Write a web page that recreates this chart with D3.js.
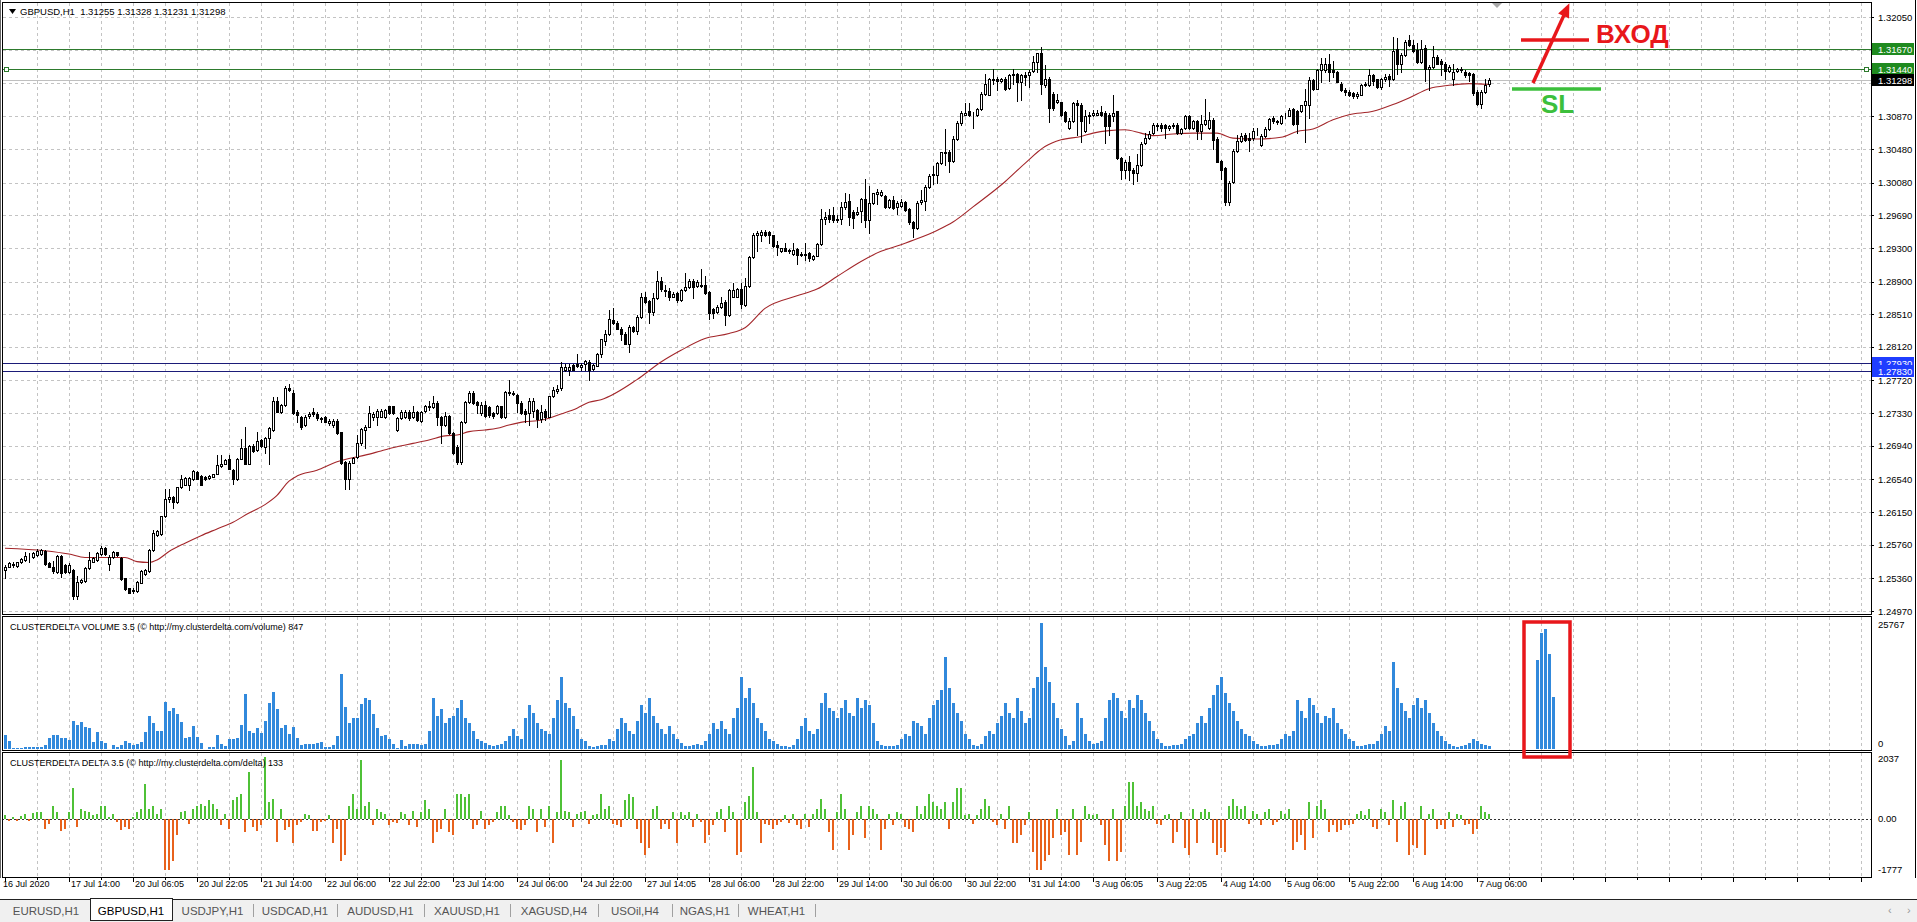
<!DOCTYPE html>
<html><head><meta charset="utf-8">
<script src="https://cdn.jsdelivr.net/npm/d3@7"></script>
<style>
html,body{margin:0;padding:0;background:#fff;overflow:hidden}
svg{display:block}
text{font-family:"Liberation Sans",Arial,sans-serif}
</style></head><body>
<svg id="c" width="1917" height="922"></svg>
<script>
// ---------------- DATA ----------------
const symbolTitle = "GBPUSD,H1";
const headerQuote = ["1.31255", "1.31328", "1.31231", "1.31298"];

// hourly candles, prices in 1/10000 (pips)
const openP = [
12546,12550,12553,12551,12555,12558,12562,12561,12564,12565,
12569,12554,12550,12544,12563,12552,12544,12546,12515,12532,
12533,12548,12556,12558,12565,12572,12553,12561,12567,12560,
12536,12524,12522,12521,12531,12541,12545,12570,12588,12589,
12610,12631,12633,12627,12645,12647,12647,12654,12663,12658,
12657,12656,12657,12660,12670,12673,12678,12665,12654,12678,
12691,12672,12694,12689,12701,12693,12704,12713,12747,12734,
12743,12763,12757,12734,12728,12719,12730,12734,12732,12727,
12728,12721,12719,12724,12710,12675,12655,12674,12681,12697,
12713,12717,12728,12728,12729,12728,12741,12741,12713,12727,
12728,12735,12728,12735,12724,12736,12740,12740,12745,12728,
12719,12730,12709,12693,12675,12722,12746,12757,12746,12733,
12743,12740,12733,12733,12742,12728,12758,12757,12755,12745,
12736,12733,12736,12737,12726,12736,12729,12753,12759,12763,
12785,12785,12790,12792,12788,12792,12794,12786,12789,12804,
12819,12828,12844,12841,12834,12828,12816,12836,12831,12848,
12871,12867,12854,12870,12891,12880,12879,12872,12876,12868,
12880,12883,12891,12885,12886,12886,12878,12857,12854,12860,
12866,12850,12872,12872,12881,12862,12885,12919,12946,12946,
12949,12949,12946,12934,12926,12930,12928,12923,12929,12923,
12922,12924,12917,12921,12935,12965,12969,12969,12963,12965,
12979,12986,12973,12971,12974,12989,12963,12984,12994,12993,
12992,12979,12987,12979,12980,12985,12977,12961,12954,12985,
12986,13003,13017,13017,13031,13045,13044,13034,13060,13079,
13089,13093,13089,13089,13096,13114,13112,13132,13132,13129,
13132,13121,13137,13137,13128,13136,13136,13141,13152,13162,
13124,13132,13114,13104,13104,13092,13073,13081,13103,13101,
13069,13088,13089,13089,13092,13091,13089,13088,13093,13037,
13023,13032,13023,13019,13029,13055,13061,13067,13077,13077,
13077,13073,13076,13077,13067,13073,13087,13073,13081,13070,
13078,13073,13083,13060,13034,13025,12985,13009,13046,13058,
13065,13061,13061,13069,13053,13063,13072,13085,13082,13079,
13087,13088,13096,13093,13093,13101,13101,13130,13120,13142,
13142,13150,13142,13140,13126,13119,13116,13115,13111,13113,
13124,13124,13136,13131,13122,13131,13135,13131,13167,13149,
13160,13178,13172,13166,13152,13168,13144,13146,13158,13153,
13150,13141,13132,13141,13142,13140,13139,13138,13116,13102,
13116,13125.5];
const highP = [
12552,12556,12555,12556,12560,12567,12566,12568,12571,12571,
12570,12556,12557,12564,12564,12553,12554,12547,12539,12535,
12549,12567,12562,12567,12575,12574,12564,12569,12568,12561,
12537,12525,12524,12533,12546,12547,12571,12594,12594,12610,
12643,12643,12634,12645,12659,12657,12657,12665,12664,12659,
12658,12659,12661,12683,12683,12678,12683,12666,12679,12702,
12716,12695,12696,12711,12702,12705,12716,12752,12752,12744,
12765,12768,12761,12737,12730,12731,12735,12739,12734,12728,
12730,12726,12726,12726,12711,12676,12676,12681,12707,12715,
12719,12741,12735,12738,12738,12738,12742,12742,12729,12737,
12737,12737,12741,12736,12736,12743,12747,12754,12747,12730,
12735,12731,12710,12695,12724,12747,12759,12759,12747,12746,
12747,12741,12735,12743,12742,12759,12773,12759,12756,12747,
12738,12751,12751,12738,12743,12738,12754,12764,12767,12794,
12792,12792,12792,12804,12793,12796,12796,12792,12805,12822,
12832,12856,12858,12843,12836,12830,12838,12837,12850,12876,
12878,12868,12876,12903,12895,12886,12882,12877,12878,12881,
12900,12893,12893,12892,12905,12897,12879,12859,12862,12872,
12868,12881,12888,12882,12888,12894,12921,12948,12950,12951,
12952,12950,12946,12938,12930,12936,12929,12936,12930,12925,
12936,12925,12922,12936,12977,12973,12977,12979,12969,12985,
12995,12994,12975,12979,12990,13012,13004,12996,13000,12999,
12993,12989,12992,12986,12989,12986,12978,12962,12986,12999,
13005,13018,13028,13033,13045,13072,13047,13063,13081,13093,
13103,13103,13092,13097,13116,13137,13133,13144,13134,13133,
13134,13138,13144,13139,13137,13140,13142,13159,13163,13170,
13148,13134,13116,13114,13104,13093,13085,13104,13106,13103,
13095,13092,13095,13095,13099,13093,13091,13112,13093,13038,
13035,13040,13026,13042,13056,13067,13070,13079,13079,13079,
13078,13077,13079,13079,13073,13089,13089,13083,13083,13089,
13108,13092,13085,13062,13035,13027,13010,13048,13065,13067,
13067,13067,13073,13073,13066,13074,13085,13088,13083,13089,
13091,13097,13097,13095,13101,13120,13134,13132,13143,13156,
13157,13161,13153,13141,13128,13121,13118,13116,13116,13125,
13128,13144,13138,13132,13133,13137,13137,13182,13180,13162,
13178,13184,13178,13174,13178,13172,13148,13171,13160,13155,
13152,13148,13149,13145,13146,13142,13140,13139,13118,13118,
13132,13132.8];
const lowP = [
12536,12549,12550,12550,12554,12557,12555,12560,12563,12564,
12552,12549,12542,12542,12538,12543,12543,12511,12511,12530,
12532,12547,12555,12557,12564,12564,12546,12560,12563,12534,
12522,12519,12519,12520,12530,12540,12544,12569,12587,12588,
12609,12627,12620,12626,12644,12647,12641,12653,12655,12647,
12653,12655,12657,12660,12669,12672,12666,12649,12653,12678,
12672,12672,12687,12688,12693,12686,12672,12712,12734,12733,
12742,12760,12732,12723,12714,12718,12727,12730,12725,12723,
12722,12719,12717,12708,12673,12643,12643,12674,12680,12695,
12691,12716,12725,12719,12728,12727,12732,12732,12712,12726,
12727,12725,12727,12724,12723,12735,12737,12739,12719,12697,
12718,12708,12684,12672,12673,12721,12745,12744,12733,12731,
12728,12728,12727,12732,12727,12727,12755,12755,12735,12732,
12723,12719,12729,12717,12723,12725,12728,12752,12757,12761,
12783,12779,12784,12788,12785,12784,12773,12785,12789,12800,
12814,12826,12839,12833,12820,12815,12806,12830,12828,12847,
12865,12841,12850,12869,12879,12873,12868,12871,12866,12867,
12879,12882,12870,12884,12883,12875,12845,12847,12852,12859,
12838,12849,12871,12871,12859,12861,12884,12918,12926,12938,
12944,12936,12931,12922,12925,12926,12924,12922,12911,12920,
12916,12915,12916,12920,12934,12959,12961,12961,12961,12959,
12977,12958,12954,12969,12961,12955,12948,12983,12982,12992,
12978,12978,12976,12971,12979,12974,12959,12943,12953,12983,
12975,13002,13006,13007,13030,13029,13021,13032,13059,13077,
13089,13087,13073,13088,13095,13113,13112,13125,13118,13128,
13118,13120,13126,13105,13106,13124,13122,13140,13140,13114,
13122,13080,13095,13103,13088,13080,13072,13080,13065,13056,
13068,13079,13087,13089,13088,13055,13065,13081,13036,13012,
13013,13011,13006,13010,13028,13054,13060,13066,13071,13069,
13061,13071,13073,13066,13066,13072,13072,13072,13060,13060,
13077,13072,13048,13032,13012,12981,12981,13008,13045,13057,
13058,13046,13059,13065,13052,13062,13071,13079,13078,13078,
13085,13087,13077,13067,13092,13057,13085,13118,13120,13128,
13140,13129,13134,13128,13117,13113,13111,13109,13109,13112,
13123,13123,13124,13121,13120,13129,13123,13130,13138,13140,
13159,13171,13164,13151,13151,13129,13118,13145,13149,13136,
13132,13140,13124,13140,13140,13134,13129,13112,13101,13097,
13115,13123.1];
const closeP = [
12550,12554,12552,12555,12559,12563,12561,12566,12569,12570,
12553,12550,12545,12563,12543,12544,12552,12515,12532,12534,
12548,12558,12560,12566,12572,12565,12562,12567,12564,12535,
12523,12519,12521,12532,12545,12546,12570,12590,12592,12610,
12631,12633,12627,12645,12655,12656,12656,12664,12655,12647,
12654,12658,12660,12671,12673,12677,12666,12654,12678,12692,
12673,12694,12688,12700,12694,12704,12715,12747,12735,12743,
12763,12761,12733,12731,12717,12729,12732,12732,12727,12726,
12723,12724,12724,12709,12674,12655,12674,12680,12697,12714,
12717,12733,12732,12736,12736,12737,12733,12733,12727,12734,
12735,12727,12735,12725,12734,12742,12742,12745,12728,12719,
12730,12709,12685,12675,12722,12746,12757,12745,12743,12743,
12730,12731,12730,12741,12729,12758,12757,12756,12745,12733,
12732,12748,12748,12726,12735,12728,12753,12761,12762,12788,
12788,12788,12785,12789,12790,12795,12785,12790,12804,12821,
12828,12845,12841,12834,12828,12816,12836,12831,12848,12871,
12866,12854,12870,12891,12881,12879,12872,12875,12868,12880,
12883,12891,12883,12890,12885,12876,12853,12853,12860,12865,
12850,12880,12880,12881,12863,12885,12919,12945,12948,12949,
12946,12945,12932,12931,12930,12927,12926,12928,12922,12922,
12923,12918,12921,12935,12964,12967,12965,12963,12965,12979,
12985,12967,12966,12973,12988,12963,12984,12995,12997,12997,
12979,12987,12978,12984,12985,12975,12961,12954,12984,12987,
13003,13016,13018,13031,13044,13043,13034,13060,13079,13091,
13091,13089,13089,13096,13114,13126,13131,13130,13129,13132,
13120,13136,13136,13128,13136,13134,13140,13152,13162,13125,
13132,13097,13097,13107,13089,13081,13082,13103,13101,13081,
13088,13089,13091,13091,13089,13075,13075,13091,13037,13023,
13033,13023,13019,13029,13054,13061,13066,13077,13076,13073,
13073,13076,13077,13067,13072,13087,13073,13081,13069,13078,
13083,13083,13059,13033,13023,12985,13008,13046,13058,13064,
13059,13059,13069,13070,13064,13072,13084,13081,13080,13087,
13088,13095,13078,13078,13100,13105,13130,13120,13142,13149,
13149,13140,13140,13128,13118,13116,13112,13111,13114,13124,
13126,13136,13129,13122,13132,13134,13131,13165,13149,13160,
13176,13172,13165,13152,13167,13144,13146,13158,13150,13149,
13141,13146,13140,13144,13144,13136,13136,13115,13102,13116,
13124,13129.8];

// moving average: bar index / value (pips)
const maBars = [0,10,16,20,25,30,33,36,38,41,45,49,53,57,61,65,68,71,73,78,83,86,90,94,98,102,106,110,113,116,120,123,126,130,133,136,139,143,146,149,158,164,169,175,181,185,190,198,203,208,214,219,224,228,233,237,242,250,255,260,264,269,272,276,280,284,287,292,297,303,307,313,319,323,327,332,336,342,347,351,356,361,366,371];
const maValues = [12572,12569,12565,12561,12561,12561,12556,12555,12558,12568,12578,12587,12595,12603,12614,12624,12635,12652,12658,12665,12675,12679,12683,12688,12693,12697,12701,12706,12707,12711,12713,12715,12719,12723,12724,12727,12732,12739,12746,12749,12773,12794,12808,12822,12828,12835,12858,12873,12881,12896,12914,12926,12934,12941,12951,12961,12979,13009,13031,13051,13059,13063,13067,13070,13071,13067,13064,13066,13067,13067,13061,13060,13062,13069,13072,13083,13089,13093,13101,13109,13120,13124,13126,13125];

// ClusterDelta volume per bar
const volume = [
2670,1630,200,130,200,390,390,390,390,390,
850,2150,2730,2730,2150,2150,1820,5470,4750,5270,
4300,4100,1370,3320,1560,1170,65,780,330,780,
1560,1100,850,1040,1370,3320,6440,5080,3520,3520,
9180,7420,8010,6900,5270,2150,2340,4490,2340,1170,
65,390,390,2730,1040,590,1950,1950,2150,4750,
10740,3520,3120,4100,3120,5470,8980,11130,7880,4100,
4620,2930,4300,2150,720,1040,1040,1040,1170,1370,
390,390,720,2540,14580,8200,5080,6050,6050,8790,
9960,9500,6840,4100,2540,2730,1950,980,200,1760,
590,980,980,980,800,900,3500,10000,6500,7800,
5000,6000,6500,8000,9500,6000,5000,3500,2000,1500,
1200,800,600,700,900,1500,2500,4000,2500,2000,
6000,8500,7000,5000,4000,3500,3000,6000,9500,14000,
9000,8000,6500,4000,2000,1500,500,400,600,700,
800,2000,1500,4000,6000,5000,3500,3000,5500,8500,
7000,10000,6500,5000,4000,3000,4500,3000,2000,1200,
600,500,700,900,800,1500,3000,5000,4000,5500,
4000,3000,6000,8000,14000,10000,12000,9000,6000,5000,
3500,2000,1500,1000,500,600,400,700,2000,4500,
6000,3500,3000,4000,9000,11000,8000,7500,6000,8000,
9500,7000,6500,10000,8000,9500,8500,5000,1500,800,
500,600,500,800,2000,3000,2500,5500,5000,4500,
3000,6000,8500,9500,11500,18000,12000,9000,7000,5500,
3000,2000,800,600,1000,2500,3500,3000,5000,6500,
9000,7000,6000,10000,7500,5000,6000,12000,14000,24500,
16000,13000,9000,6000,4000,2500,800,1500,9000,6000,
3000,1500,1000,1200,1500,6000,9500,11000,10000,7500,
6000,9500,8000,10500,9500,7000,5500,3500,2000,1200,
600,500,700,800,1000,2000,2500,3000,5000,6500,
5000,8000,10500,12500,14000,11000,9000,7500,5500,4000,
3000,2500,1500,1000,500,600,800,700,1000,2000,
3000,2500,3500,9500,7500,6000,10000,8500,7000,5000,
6500,6000,8000,5000,4000,3000,2000,1500,600,500,
700,900,1000,1500,3000,4500,3500,17000,12000,9000,
7500,6000,8500,10000,8000,9500,7000,5000,3500,2500,
1500,1000,500,400,600,800,1200,2000,1500,1000,
800,600];
// volume bars drawn beyond the last candle (inside the red frame)
const volumeExtraBars = [383, 384, 385, 386, 387];
const volumeExtra = [17340, 22640, 23360, 18540, 10110];

// ClusterDelta delta per bar
const delta = [
120,-80,60,-60,90,150,-70,180,200,220,
-300,-150,375,200,-375,-300,200,935,-250,300,
250,200,100,150,375,375,60,150,-100,-350,
-250,-300,60,200,300,1050,300,400,150,300,
-1570,-1570,-1300,-500,200,250,-150,300,375,450,
375,560,450,300,-200,150,-300,560,650,750,
-400,1420,-250,-375,-200,1870,500,600,-700,300,
-350,-250,-750,-200,-100,150,100,-375,-375,-100,
-80,120,-750,-300,-1300,-1100,400,750,300,1800,
400,500,-200,300,200,150,-200,-100,-120,200,
150,-200,250,-250,200,560,300,-750,-400,-300,
300,-400,-500,750,750,650,750,-300,-200,250,
-300,-200,-100,200,375,400,100,-100,-300,-350,
-200,400,300,-400,300,-250,400,-750,200,1800,
250,200,-250,150,200,250,-150,100,150,750,
300,400,-150,-200,-250,560,750,650,-300,-750,
-1120,-900,300,400,-300,-150,-300,200,-750,200,
100,200,-250,150,-100,-750,-500,-200,200,300,
-400,400,200,-1120,-1000,500,700,1570,200,-750,
-150,-200,-300,-200,-100,100,-120,150,-200,-300,
150,-250,150,300,600,300,-400,-940,200,750,
300,-940,-500,200,400,-600,400,300,150,-940,
-300,150,-200,200,150,-250,-300,-400,400,150,
400,750,500,400,300,500,-300,500,940,940,
100,150,-150,100,300,600,400,-100,-200,150,
-300,400,-750,-750,-500,-200,200,-1000,-1570,-1570,
-1300,-1100,-600,300,-500,-400,-1120,300,-1120,-700,
400,150,100,150,-200,-800,-1300,300,-1300,-1000,
400,1120,1120,400,500,300,250,400,-150,-200,
100,150,-750,-400,200,-900,-1120,300,-750,200,
300,200,-750,-1120,-900,-1000,400,600,400,300,
375,-150,250,150,-200,200,300,-200,-100,250,
150,300,-940,-700,-500,-940,500,-600,400,560,
300,-400,-200,-400,-350,-200,-200,-150,150,250,
100,300,-250,-300,300,200,-200,560,-700,400,
500,-1120,-800,-900,400,-1120,150,300,-300,-200,
-300,200,-250,150,100,-200,-150,-450,-300,400,
200,150];

const timeLabels = ["16 Jul 2020","17 Jul 14:00","20 Jul 06:05","20 Jul 22:05","21 Jul 14:00","22 Jul 06:00","22 Jul 22:00","23 Jul 14:00","24 Jul 06:00","24 Jul 22:00","27 Jul 14:05","28 Jul 06:00","28 Jul 22:00","29 Jul 14:00","30 Jul 06:00","30 Jul 22:00","31 Jul 14:00","3 Aug 06:05","3 Aug 22:05","4 Aug 14:00","5 Aug 06:00","5 Aug 22:00","6 Aug 14:00","7 Aug 06:00"];
const priceGrid = [1.32050,1.31660,1.31270,1.30870,1.30480,1.30080,1.29690,1.29300,1.28900,1.28510,1.28120,1.27720,1.27330,1.26940,1.26540,1.26150,1.25760,1.25360,1.24970];
const priceLabels = ["1.32050","1.30870","1.30480","1.30080","1.29690","1.29300","1.28900","1.28510","1.28120","1.27720","1.27330","1.26940","1.26540","1.26150","1.25760","1.25360","1.24970"];
const levelPrices = [1.31670, 1.31440, 1.31298, 1.27930, 1.27830];
const levelKinds  = ["green", "green", "bid", "blue", "blue"];
const volumeAxis = [25767, 0];
const deltaAxis = [2037, 0, -1777];
const deltaAxisText = ["2037", "0.00", "-1777"];
const volumeTitle = "CLUSTERDELTA VOLUME 3.5 (\u00A9 http://my.clusterdelta.com/volume) 847";
const deltaTitle = "CLUSTERDELTA DELTA 3.5 (\u00A9 http://my.clusterdelta.com/delta) 133";
const tabNames = ["EURUSD,H1","GBPUSD,H1","USDJPY,H1","USDCAD,H1","AUDUSD,H1","XAUUSD,H1","XAGUSD,H4","USOil,H4","NGAS,H1","WHEAT,H1"];
const activeTab = "GBPUSD,H1";
// hand-drawn annotation: entry ("ВХОД") and stop-loss ("SL"), in bar / price units
const entryLine = {bar0: 379, bar1: 396, price: 1.31781};
const entryArrow = {bar0: 382, price0: 1.31268, bar1: 391.1, price1: 1.32219};
const entryText = {bar: 397.75, price: 1.31745, text: "ВХОД"};
const slLine = {bar0: 376.75, bar1: 399, price: 1.31197};
const slText = {bar: 384, price: 1.3091, text: "SL"};

// ---------------- LAYOUT ----------------
const W = 1917, H = 922;
const L = 2, R = 1871;
const mainTop = 2, mainBot = 614;
const volTop = 616, volBot = 750;
const dTop = 752, dBot = 877;
const P = v => v / 10000;

const svg = d3.select("#c");
svg.append("rect").attr("width", W).attr("height", H).attr("fill", "#fff");

const x = d3.scaleLinear().domain([0, 1]).range([5, 9]);         // 4 px per hourly bar
const y = d3.scaleLinear().domain([1.2497, 1.3205]).range([611.1, 17.4]);
const yV = d3.scaleLinear().domain([0, 25767]).range([749, 617]);
const yD = d3.scaleLinear().domain([-1777, 2037]).range([dBot, dTop]);
const cx = i => Math.round(x(i));

const defs = svg.append("defs");
function clip(id, y0, y1) {
  defs.append("clipPath").attr("id", id).append("rect")
    .attr("x", L + 1).attr("y", y0 + 1).attr("width", R - L - 1).attr("height", y1 - y0 - 1);
}
clip("cm", mainTop, mainBot); clip("cv", volTop, volBot); clip("cd", dTop, dBot);

// ---- grids
const gridColor = "#c3c3c3";
const vGrid = d3.range(1, 59).map(k => k * 8);
[[mainTop, mainBot], [volTop, volBot], [dTop, dBot]].forEach(([a, b]) => {
  svg.append("g").selectAll("line").data(vGrid).join("line")
    .attr("x1", i => cx(i) + 0.5).attr("x2", i => cx(i) + 0.5)
    .attr("y1", a + 1).attr("y2", b)
    .attr("stroke", gridColor).attr("stroke-dasharray", "3,3");
});
svg.append("g").selectAll("line").data(priceGrid).join("line")
  .attr("x1", L + 1).attr("x2", R)
  .attr("y1", d => Math.round(y(d)) + 0.5).attr("y2", d => Math.round(y(d)) + 0.5)
  .attr("stroke", gridColor).attr("stroke-dasharray", "3,3");

// ---- level lines
const levelColor = {green: "#2d7a2d", bid: "#c0c0c0", blue: "#1b1b78"};
const main = svg.append("g").attr("clip-path", "url(#cm)");
main.selectAll("line.lv").data(levelPrices).join("line")
  .attr("x1", L).attr("x2", R)
  .attr("y1", d => Math.round(y(d)) + 0.5).attr("y2", d => Math.round(y(d)) + 0.5)
  .attr("stroke", (d, i) => levelColor[levelKinds[i]]).attr("stroke-width", 1);
// selection handles on the 1.31440 line
[L + 2, R - 7].forEach(px => {
  svg.append("rect").attr("x", px + 0.5).attr("y", Math.round(y(levelPrices[1])) - 2 + 0.5)
    .attr("width", 4).attr("height", 4).attr("fill", "#fff").attr("stroke", "#2d7a2d");
});

// ---- moving average
const maPts = maBars.map((b, k) => [b, maValues[k]]);
main.append("path").datum(maPts)
  .attr("d", d3.line().x(d => x(d[0])).y(d => y(P(d[1]))).curve(d3.curveMonotoneX))
  .attr("fill", "none").attr("stroke", "#a3262a").attr("stroke-width", 1.1);

// ---- candles
const bars = d3.range(closeP.length);
const cg = main.append("g").attr("shape-rendering", "crispEdges");
cg.selectAll("line").data(bars).join("line")
  .attr("x1", i => cx(i) + 0.5).attr("x2", i => cx(i) + 0.5)
  .attr("y1", i => Math.round(y(P(highP[i])))).attr("y2", i => Math.round(y(P(lowP[i]))) + 1)
  .attr("stroke", "#000");
cg.selectAll("rect").data(bars).join("rect")
  .attr("x", i => cx(i) - 0.5).attr("width", 2)
  .attr("y", i => Math.round(y(P(Math.max(openP[i], closeP[i])))) + 0.5)
  .attr("height", i => Math.max(0, Math.round(y(P(Math.min(openP[i], closeP[i])))) - Math.round(y(P(Math.max(openP[i], closeP[i]))))))
  .attr("fill", i => closeP[i] >= openP[i] ? "#fff" : "#000")
  .attr("stroke", "#000");

// ---- volume
const vg = svg.append("g").attr("clip-path", "url(#cv)").attr("shape-rendering", "crispEdges");
const volColor = "#3189dc";
vg.selectAll("rect.v").data(bars).join("rect")
  .attr("x", i => cx(i) - 1).attr("width", 3)
  .attr("y", i => yV(volume[i])).attr("height", i => yV(0) - yV(volume[i]))
  .attr("fill", volColor);
vg.selectAll("rect.e").data(volumeExtraBars).join("rect")
  .attr("x", b => cx(b) - 1).attr("width", 3)
  .attr("y", (b, k) => yV(volumeExtra[k])).attr("height", (b, k) => yV(0) - yV(volumeExtra[k]))
  .attr("fill", volColor);

// ---- delta
const dg = svg.append("g").attr("clip-path", "url(#cd)").attr("shape-rendering", "crispEdges");
dg.append("line").attr("x1", L).attr("x2", R).attr("y1", Math.round(yD(0)) + 0.5).attr("y2", Math.round(yD(0)) + 0.5)
  .attr("stroke", "#333").attr("stroke-dasharray", "2,2");
dg.selectAll("rect").data(bars).join("rect")
  .attr("x", i => cx(i) - 1).attr("width", 2)
  .attr("y", i => yD(Math.max(0, delta[i])))
  .attr("height", i => Math.abs(yD(0) - yD(delta[i])))
  .attr("fill", i => delta[i] >= 0 ? "#4fc137" : "#e8621c");

// ---- panel frames
[[mainTop, mainBot], [volTop, volBot], [dTop, dBot]].forEach(([a, b]) => {
  svg.append("rect").attr("x", L + 0.5).attr("y", a + 0.5).attr("width", R - L).attr("height", b - a)
    .attr("fill", "none").attr("stroke", "#000").attr("shape-rendering", "crispEdges");
});
svg.append("line").attr("x1", 1915.5).attr("x2", 1915.5).attr("y1", 0).attr("y2", dBot + 1).attr("stroke", "#000");
svg.append("line").attr("x1", 0.5).attr("x2", 0.5).attr("y1", 0).attr("y2", dBot + 1).attr("stroke", "#666");

// ---- header
svg.append("path").attr("d", "M9,9 L16,9 L12.5,14 Z").attr("fill", "#000");
svg.append("text").attr("x", 20).attr("y", 14.5).attr("font-size", 9.5).attr("fill", "#000")
  .text(symbolTitle + "  " + headerQuote.join(" ")).attr("xml:space", "preserve").style("white-space", "pre");
// chart shift marker
svg.append("path").attr("d", `M${x(373) - 5},3 L${x(373) + 5},3 L${x(373)},8 Z`).attr("fill", "#a8a8a8");

// ---- price axis labels
const axG = svg.append("g").attr("font-size", 9.5).attr("fill", "#000");
axG.selectAll("text").data(priceLabels).join("text")
  .attr("x", 1878).attr("y", d => y(+d) + 3.5).text(d => d);
axG.selectAll("line").data(priceGrid).join("line")
  .attr("x1", R).attr("x2", R + 3).attr("y1", d => Math.round(y(d)) + 0.5).attr("y2", d => Math.round(y(d)) + 0.5)
  .attr("stroke", "#000");
const boxFill = {green: "#1f8a1f", bid: "#000", blue: "#1f3dff"};
levelPrices.forEach((p, k) => {
  const yy = Math.round(y(p));
  svg.append("rect").attr("x", R + 1).attr("y", yy - 6).attr("width", 42).attr("height", 12)
    .attr("fill", boxFill[levelKinds[k]]);
  svg.append("text").attr("x", 1878).attr("y", yy + 3.5).attr("font-size", 9.5).attr("fill", "#fff")
    .text(p.toFixed(5));
});

// ---- subwindow labels and axes
svg.append("text").attr("x", 10).attr("y", 629.5).attr("font-size", 9).text(volumeTitle);
svg.append("text").attr("x", 10).attr("y", 765.5).attr("font-size", 9).text(deltaTitle);
svg.append("text").attr("x", 1878).attr("y", 628).attr("font-size", 9.5).text(String(volumeAxis[0]));
svg.append("text").attr("x", 1878).attr("y", 747).attr("font-size", 9.5).text(String(volumeAxis[1]));
svg.append("text").attr("x", 1878).attr("y", 762).attr("font-size", 9.5).text(deltaAxisText[0]);
svg.append("text").attr("x", 1878).attr("y", yD(deltaAxis[1]) + 3.5).attr("font-size", 9.5).text(deltaAxisText[1]);
svg.append("text").attr("x", 1878).attr("y", 873).attr("font-size", 9.5).text(deltaAxisText[2]);

// ---- time axis
const tg = svg.append("g").attr("shape-rendering", "crispEdges");
tg.selectAll("line").data(d3.range(0, 59).map(k => k * 8)).join("line")
  .attr("x1", i => cx(i) + 0.5).attr("x2", i => cx(i) + 0.5)
  .attr("y1", dBot + 1).attr("y2", i => dBot + (i % 16 === 0 ? 5 : 3)).attr("stroke", "#000");
svg.append("g").attr("font-size", 9).selectAll("text").data(timeLabels).join("text")
  .attr("x", (d, k) => k === 0 ? 3 : cx(k * 16) + 2).attr("y", 887).text(d => d);

// ---- tab bar
svg.append("rect").attr("x", 0).attr("y", 899).attr("width", W).attr("height", 23).attr("fill", "#f0f0f0");
svg.append("line").attr("x1", 0).attr("x2", W).attr("y1", 899.5).attr("y2", 899.5).attr("stroke", "#222");
const tabEdges = [2, 90, 172, 253, 337, 424, 510, 598, 672, 738, 815];
tabNames.forEach((t, k) => {
  const a = tabEdges[k], b = tabEdges[k + 1];
  if (t === activeTab) {
    svg.append("rect").attr("x", a + 0.5).attr("y", 898.5).attr("width", b - a).attr("height", 22)
      .attr("fill", "#fff").attr("stroke", "#222");
  } else if (k + 1 === tabNames.length || tabNames[k + 1] !== activeTab) {
    svg.append("line").attr("x1", b + 0.5).attr("x2", b + 0.5).attr("y1", 904).attr("y2", 917).attr("stroke", "#a0a0a0");
  }
  svg.append("text").attr("x", (a + b) / 2).attr("y", 914.5).attr("text-anchor", "middle")
    .attr("font-size", 11.5).attr("fill", t === activeTab ? "#000" : "#555").text(t);
});
svg.append("text").attr("x", 1888).attr("y", 914).attr("font-size", 11).attr("fill", "#999").text("\u2039");
svg.append("text").attr("x", 1907).attr("y", 914).attr("font-size", 11).attr("fill", "#999").text("\u203A");

// ---- annotation
const red = "#e8171b", slGreen = "#3cbf3c";
const an = svg.append("g");
an.append("line").attr("x1", x(entryLine.bar0)).attr("x2", x(entryLine.bar1))
  .attr("y1", y(entryLine.price)).attr("y2", y(entryLine.price)).attr("stroke", red).attr("stroke-width", 3.5);
{
  const x0 = x(entryArrow.bar0), y0 = y(entryArrow.price0), x1 = x(entryArrow.bar1), y1 = y(entryArrow.price1);
  const dx = x1 - x0, dy = y1 - y0, len = Math.hypot(dx, dy), ux = dx / len, uy = dy / len;
  const bx = x1 - ux * 14, by = y1 - uy * 14;
  an.append("line").attr("x1", x0).attr("y1", y0).attr("x2", bx + ux * 2).attr("y2", by + uy * 2)
    .attr("stroke", red).attr("stroke-width", 3.5);
  an.append("path").attr("d", `M${x1},${y1} L${bx - uy * 6},${by + ux * 6} L${bx + uy * 6},${by - ux * 6} Z`).attr("fill", red);
}
an.append("text").attr("x", x(entryText.bar)).attr("y", y(entryText.price))
  .attr("font-size", 26).attr("font-weight", "bold").attr("fill", red).text(entryText.text);
an.append("line").attr("x1", x(slLine.bar0)).attr("x2", x(slLine.bar1))
  .attr("y1", y(slLine.price)).attr("y2", y(slLine.price)).attr("stroke", slGreen).attr("stroke-width", 3.5);
an.append("text").attr("x", x(slText.bar)).attr("y", y(slText.price))
  .attr("font-size", 26).attr("font-weight", "bold").attr("fill", slGreen).text(slText.text);
// red frame around the latest volume bars
an.append("rect").attr("x", 1524).attr("y", 622).attr("width", 46).attr("height", 135)
  .attr("fill", "none").attr("stroke", red).attr("stroke-width", 3.5);
</script>
</body></html>
